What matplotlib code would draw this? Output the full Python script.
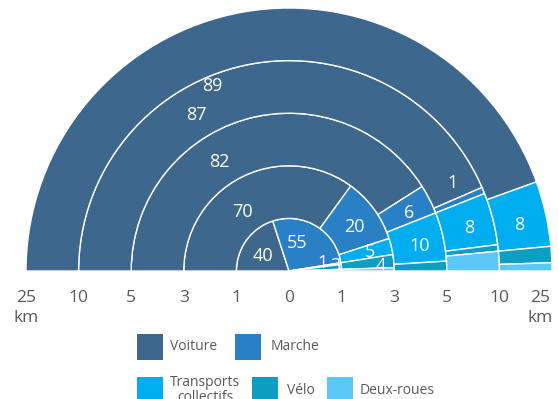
import matplotlib
matplotlib.use("Agg")
import matplotlib.pyplot as plt
from matplotlib.patches import Wedge, Rectangle

plt.rcParams['font.family'] = ['Open Sans', 'DejaVu Sans']

# distance bands (km) and modal shares (%) per band
bands = ['0-1', '1-3', '3-5', '5-10', '10-25']
radius_ticks = ['0', '1', '3', '5', '10', '25']
modes = ['Voiture', 'Marche', 'Transports\ncollectifs', 'Vélo', 'Deux-roues']
voiture = [40, 70, 82, 87, 89]
marche = [55, 20, 6, 1, 0]
transports = [1, 5, 10, 8, 8]
velo = [3, 4, 2, 1, 2]
deux_roues = [1, 1, 0, 3, 1]

colors = ['#3e678d', '#2a80c4', '#00aeef', '#0d9ec2', '#5bc8f5']
txt_col = '#58595b'

# which values get a label, and where (x, y in ring units)
label_pos = {
    (0, 0): (-0.49, 0.29), (0, 1): (0.15, 0.53), (0, 2): (0.63, 0.15), (0, 3): (0.89, 0.10),
    (1, 0): (-0.89, 1.12), (1, 1): (1.24, 0.84), (1, 2): (1.54, 0.36), (1, 3): (1.75, 0.10),
    (2, 0): (-1.33, 2.07), (2, 1): (2.28, 1.10), (2, 2): (2.49, 0.48),
    (3, 0): (-1.77, 2.97), (3, 1): (3.10, 1.67), (3, 2): (3.42, 0.82),
    (4, 0): (-1.46, 3.52), (4, 2): (4.37, 0.87),
}

W, H = 558, 399
px = 52.6          # pixels per ring
cx, cy = 289, 271  # centre in pixels

fig = plt.figure(figsize=(W / 100, H / 100), dpi=100)
ax = fig.add_axes([0, 0, 1, 1])
ax.set_xlim(-cx / px, (W - cx) / px)
ax.set_ylim(-(H - cy) / px, cy / px)
ax.axis('off')

series = [voiture, marche, transports, velo, deux_roues]
for i in range(len(bands)):
    vals = [s[i] for s in series]
    scale = 180.0 / sum(vals)
    start = 180.0
    for j, v in enumerate(vals):
        if v > 0:
            ax.add_patch(Wedge((0, 0), i + 1, start - v * scale, start, width=1 if i > 0 else None,
                               facecolor=colors[j], edgecolor='white', linewidth=1))
        start -= v * scale
        if (i, j) in label_pos:
            x, y = label_pos[(i, j)]
            ax.text(x, y, str(v), color='white', fontsize=13, ha='center', va='center')

# radius axis labels on both sides
ty = (cy - 298) / px
for k, lab in enumerate(radius_ticks):
    for side in (-1, 1):
        if k == 0 and side == 1:
            continue
        x = side * k
        if k == len(radius_ticks) - 1 and side == 1:
            x -= 0.22
        ax.text(x, ty, lab, color=txt_col, fontsize=12.5, ha='center', va='center')
        if k == len(radius_ticks) - 1:
            ax.text(x, (cy - 318) / px, 'km', color=txt_col, fontsize=12.5, ha='center', va='center')

# legend drawn in pixel coordinates
lax = fig.add_axes([0, 0, 1, 1])
lax.set_xlim(0, W)
lax.set_ylim(H, 0)
lax.axis('off')
leg_sq = [(137, 334), (235, 334), (137, 377), (252, 377), (327, 377)]
leg_txt = [(170, 347, 'left'), (271, 347, 'left'), (205, 390, 'center'), (287, 390, 'left'), (360, 390, 'left')]
for j, m in enumerate(modes):
    sx, sy = leg_sq[j]
    lax.add_patch(Rectangle((sx, sy), 26, 26, facecolor=colors[j], edgecolor='none'))
    tx, tyy, ha = leg_txt[j]
    lax.text(tx, tyy, m, color=txt_col, fontsize=10, ha=ha, va='center', linespacing=1.0)

fig.savefig('out.png', dpi=100)
